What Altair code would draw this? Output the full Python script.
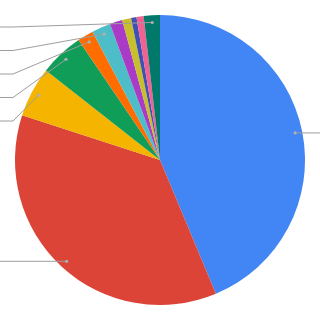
import altair as alt
import pandas as pd
import numpy as np

# Slice data (clockwise from 12 o'clock)
names = ["Slice 1", "Slice 2", "Slice 3", "Slice 4", "Slice 5", "Slice 6",
         "Slice 7", "Slice 8", "Slice 9", "Slice 10", "Slice 11"]
values = [43.7, 36.3, 5.6, 4.9, 1.8, 2.1, 1.4, 1.0, 0.6, 0.8, 1.8]
colors = ["#4285F4", "#DB4437", "#F4B400", "#0F9D58", "#FF6D01", "#4DBEC8",
          "#A93BC6", "#C8BF2C", "#3F51B5", "#F06292", "#00796B"]

W = H = 320
CX, CY, R = 160, 160, 145
DOT_R = R * 0.95
LABEL_MIN = 1.5      # slices below this share get no leader line
LABEL_GAP = 23.5
TOP_Y = 27
ELBOW_X = 13

pie = pd.DataFrame({"name": names, "value": values, "idx": range(len(names))})

# leader-line geometry derived from the slice values
vals = np.array(values, dtype=float)
total = vals.sum()
cum = np.cumsum(vals)
mid = (cum - vals / 2) / total * 2 * np.pi
dx = CX + DOT_R * np.sin(mid)
dy = CY - DOT_R * np.cos(mid)

rows, dots = [], []
left = [i for i in range(len(vals)) if vals[i] / total * 100 >= LABEL_MIN and dx[i] < CX]
left.sort(key=lambda i: dy[i])
prev = TOP_Y - LABEL_GAP
for i in left:
    ly = max(dy[i], prev + LABEL_GAP, TOP_Y)
    prev = ly
    pts = [(dx[i], dy[i]), (ELBOW_X, ly), (-10, ly)]
    for k, (px, py) in enumerate(pts):
        rows.append({"name": names[i], "k": k, "x": px, "y": py})
    dots.append({"name": names[i], "x": dx[i], "y": dy[i]})
right = [i for i in range(len(vals)) if vals[i] / total * 100 >= LABEL_MIN and dx[i] >= CX]
for i in right:
    pts = [(dx[i], dy[i]), (W + 10, dy[i])]
    for k, (px, py) in enumerate(pts):
        rows.append({"name": names[i], "k": k, "x": px, "y": py})
    dots.append({"name": names[i], "x": dx[i], "y": dy[i]})

lines_df = pd.DataFrame(rows)
dots_df = pd.DataFrame(dots)

xs = alt.Scale(domain=[0, W], nice=False, zero=False)
ys = alt.Scale(domain=[0, H], nice=False, zero=False, reverse=True)

arc = alt.Chart(pie).mark_arc(outerRadius=R).encode(
    theta=alt.Theta("value:Q", stack=True),
    color=alt.Color("name:N", scale=alt.Scale(domain=names, range=colors), legend=None),
    order=alt.Order("idx:Q"),
)

lines = alt.Chart(lines_df).mark_line(color="#9E9E9E", strokeWidth=1, clip=True).encode(
    x=alt.X("x:Q", scale=xs, axis=None),
    y=alt.Y("y:Q", scale=ys, axis=None),
    detail="name:N",
    order="k:Q",
)

pts = alt.Chart(dots_df).mark_circle(color="#B0B0B0", size=10, opacity=1).encode(
    x=alt.X("x:Q", scale=xs, axis=None),
    y=alt.Y("y:Q", scale=ys, axis=None),
)

chart = alt.layer(arc, lines, pts).properties(
    width=W, height=H, padding=0, autosize=alt.AutoSizeParams(type="none"),
    background="white",
).configure_view(stroke=None)

chart.save("out.html", embed_options={"renderer": "svg", "actions": False})
